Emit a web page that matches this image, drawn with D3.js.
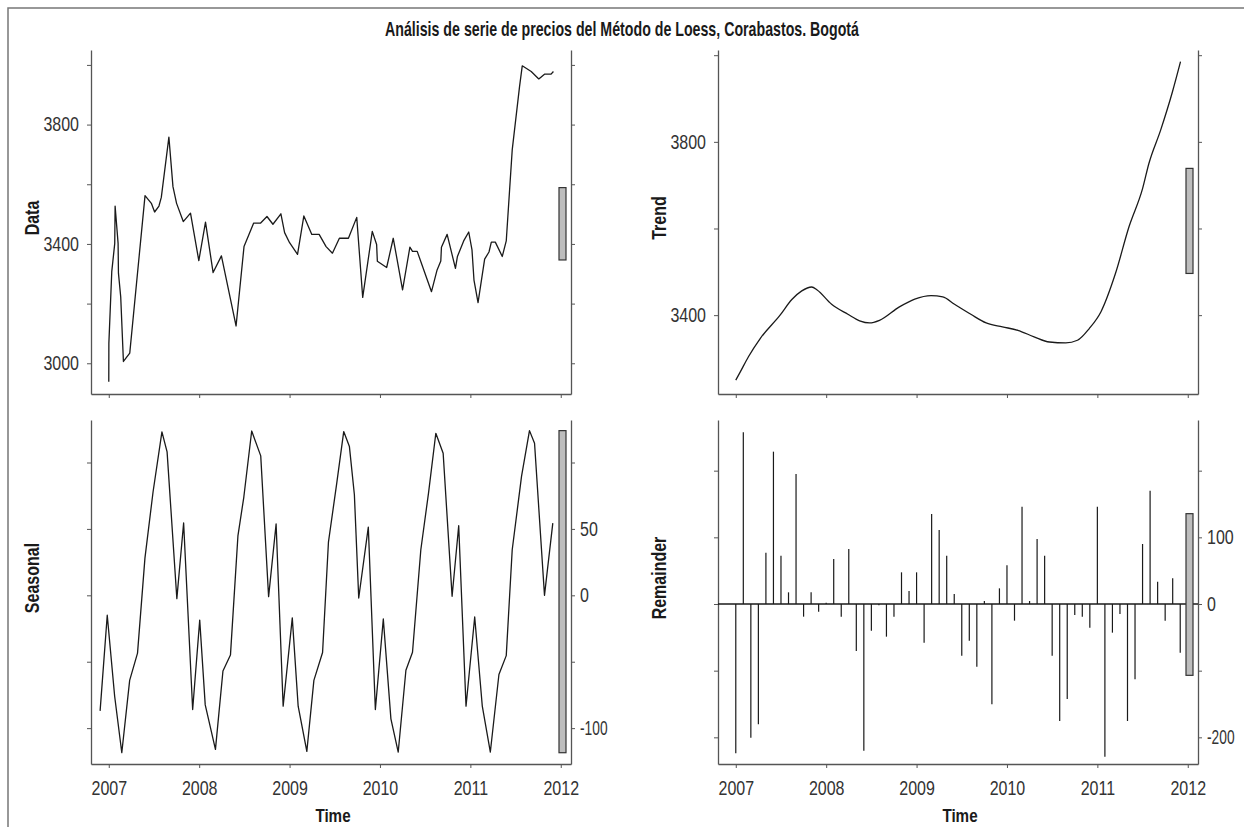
<!DOCTYPE html>
<html>
<head>
<meta charset="utf-8">
<script src="https://cdn.jsdelivr.net/npm/d3@7"></script>
<style>
  body { margin: 0; background: #fff; }
  text { font-family: "Liberation Sans", Arial, sans-serif; }
</style>
</head>
<body>
<div id="chart"></div>
<script>
const title = "Análisis de serie de precios del Método de Loess, Corabastos. Bogotá";
const years = [2007, 2008, 2009, 2010, 2011, 2012];
const timeDomain = [2006.8033, 2012.1133];

// Data panel (decimal years)
const dataTimes = [
  2007.000, 2007.001, 2007.033, 2007.066, 2007.070, 2007.103, 2007.107, 2007.132, 2007.162, 2007.232,
  2007.401, 2007.471, 2007.507, 2007.555, 2007.581, 2007.665, 2007.710, 2007.750, 2007.824, 2007.904,
  2007.996, 2008.070, 2008.154, 2008.246, 2008.408, 2008.496, 2008.603, 2008.680, 2008.750, 2008.816,
  2008.904, 2008.945, 2009.000, 2009.088, 2009.158, 2009.246, 2009.327, 2009.404, 2009.474, 2009.551,
  2009.651, 2009.743, 2009.809, 2009.915, 2009.963, 2009.971, 2010.074, 2010.147, 2010.250, 2010.331,
  2010.360, 2010.412, 2010.570, 2010.632, 2010.673, 2010.680, 2010.743, 2010.835, 2010.857, 2010.926,
  2010.982, 2011.018, 2011.040, 2011.085, 2011.158, 2011.206, 2011.232, 2011.276, 2011.353, 2011.397,
  2011.463, 2011.544, 2011.574, 2011.673, 2011.757, 2011.820, 2011.893, 2011.919
];
const dataValues = [
  2938, 3067, 3307, 3402, 3527, 3402, 3302, 3223, 3006, 3034,
  3562, 3536, 3507, 3527, 3556, 3758, 3592, 3536, 3475, 3503,
  3344, 3473, 3304, 3360, 3125, 3391, 3470, 3470, 3492, 3466,
  3501, 3438, 3404, 3365, 3494, 3432, 3432, 3391, 3369, 3419,
  3419, 3489, 3221, 3442, 3398, 3342, 3321, 3419, 3246, 3389,
  3375, 3375, 3240, 3313, 3343, 3389, 3432, 3318, 3358, 3410,
  3440, 3380, 3279, 3203, 3349, 3373, 3406, 3406, 3358, 3410,
  3715, 3927, 3997, 3978, 3953, 3969, 3969, 3978
];

// Trend panel
const trendTimes = [
  2007.00, 2007.05, 2007.14, 2007.27, 2007.49, 2007.62, 2007.73, 2007.84, 2007.90, 2008.06,
  2008.24, 2008.37, 2008.48, 2008.59, 2008.81, 2008.98, 2009.16, 2009.29, 2009.42, 2009.60,
  2009.77, 2009.95, 2010.12, 2010.30, 2010.47, 2010.65, 2010.78, 2010.91, 2011.04, 2011.20,
  2011.35, 2011.50, 2011.57, 2011.70, 2011.83, 2011.92
];
const trendValues = [
  3250, 3269, 3304, 3346, 3400, 3436, 3456, 3465, 3458, 3425,
  3402, 3387, 3382, 3388, 3419, 3437, 3445, 3442, 3425, 3402,
  3382, 3373, 3365, 3350, 3338, 3336, 3342, 3369, 3408, 3496,
  3604, 3692, 3750, 3827, 3915, 3985
];

// Seasonal panel
const seasonalTimes = [
  2006.904, 2006.983, 2007.065, 2007.144, 2007.231, 2007.318, 2007.400, 2007.490, 2007.588, 2007.645,
  2007.753, 2007.828, 2007.928, 2008.006, 2008.067, 2008.180, 2008.263, 2008.346, 2008.429, 2008.494,
  2008.581, 2008.681, 2008.768, 2008.851, 2008.929, 2009.030, 2009.095, 2009.191, 2009.269, 2009.365,
  2009.430, 2009.522, 2009.599, 2009.662, 2009.717, 2009.765, 2009.871, 2009.949, 2010.037, 2010.121,
  2010.202, 2010.287, 2010.360, 2010.452, 2010.537, 2010.618, 2010.699, 2010.798, 2010.871, 2010.952,
  2011.048, 2011.132, 2011.221, 2011.316, 2011.397, 2011.463, 2011.566, 2011.654, 2011.710, 2011.820,
  2011.912
];
const seasonalValues = [
  -87, -15, -76, -118.5, -64, -43.5, 28, 78, 123, 108,
  -2.5, 54.5, -86, -18.7, -82.5, -116, -57, -45, 45, 74,
  123.7, 105, -1, 53.7, -83.5, -17, -83.5, -117.5, -64, -43,
  40, 84.5, 123.3, 112, 75.7, -2, 51.4, -86, -17.8, -93,
  -118, -56.4, -42.9, 34.3, 77, 122, 107, -0.7, 52.4, -83.5,
  -16.3, -83.5, -118, -59.6, -45.4, 34.3, 89.5, 124, 114.5, 0,
  54.4
];

// Remainder panel, monthly from January 2007
const remainderStart = 2007;
const remainderValues = [
  -224, 257.5, -200.5, -180.5, 77, 228.5, 72.5, 17.5, 195, -19, 17.5, -11.5,
  2, 67.5, -19, 82.5, -70.5, -220, -40, -2, -49, -19, 47.5, 19.5,
  47.5, -58, 135, 111, 72.5, 15, -77.5, -55, -94, 4.5, -150.5, 23.5,
  58, -25, 146, 4.5, 97.5, 72.5, -77.5, -175.5, -142.5, -16.5, -19, -35.5,
  146, -229, -43, -15, -175.5, -113, 90, 170, 33.5, -25, 38.5, -73
];

// Axis ranges and ticks as drawn
const dataDomain = [2897, 4050];
const dataTicks = [3000, 3200, 3400, 3600, 3800, 4000];
const dataLabels = [3000, 3400, 3800];
const trendDomain = [3218, 4012];
const trendTicks = [3400, 3600, 3800, 4000];
const trendLabels = [3400, 3800];
const seasonalDomain = [-127, 132];
const seasonalTicks = [-100, -50, 0, 50, 100];
const seasonalLabels = [-100, 0, 50];
const remainderDomain = [-240, 276];
const remainderTicks = [-200, -100, 0, 100, 200];
const remainderLabels = [-200, 0, 100];

const width = 1244;
const height = 827;
const panelW = 480;
const panelH = 344;
const colX = [91, 718];
const rowY = [50, 420];
const tickLen = 4;
const ink = "#1a1a1a";
const axisColor = "#555";
const narrow = 0.8; // squeeze Liberation Sans to a condensed width

// the hyphen of negative labels is much narrower in the original face
const squeezeOf = (el, factor) => (el.textContent.startsWith("-") ? factor * 0.86 : factor);

// squeeze a text horizontally via textLength, keeping its anchor
const condense = (sel, factor = narrow) =>
  sel.each(function () {
    const w = this.getComputedTextLength();
    if (w > 0) {
      d3.select(this)
        .attr("textLength", w * squeezeOf(this, factor))
        .attr("lengthAdjust", "spacingAndGlyphs");
    }
  });

// squeeze tick labels with a real scale so their boxes are honest
const condenseTick = (sel, factor = narrow) =>
  sel.each(function () {
    const t = d3.select(this);
    const x0 = +t.attr("x") || 0;
    t.attr("x", 0).attr("transform", `translate(${x0},0) scale(${squeezeOf(this, factor)},1)`);
  });

const svg = d3.select("#chart").append("svg")
  .attr("width", width)
  .attr("height", height);

svg.append("rect")
  .attr("x", 8).attr("y", 8)
  .attr("width", width + 10).attr("height", height + 10)
  .attr("fill", "none")
  .attr("stroke", "#777")
  .attr("stroke-width", 1.5);

svg.append("text")
  .attr("x", width / 2)
  .attr("y", 36)
  .attr("text-anchor", "middle")
  .attr("font-size", 21)
  .attr("font-weight", "bold")
  .attr("fill", "#1a1a1a")
  .text(title)
  .call((t) => t.attr("textLength", 474).attr("lengthAdjust", "spacingAndGlyphs"));

const panels = [
  { label: "Data", col: 0, row: 0, type: "line", times: dataTimes, values: dataValues,
    domain: dataDomain, ticks: dataTicks, labels: dataLabels, side: "left", curve: d3.curveLinear },
  { label: "Trend", col: 1, row: 0, type: "line", times: trendTimes, values: trendValues,
    domain: trendDomain, ticks: trendTicks, labels: trendLabels, side: "left", curve: d3.curveMonotoneX },
  { label: "Seasonal", col: 0, row: 1, type: "line", times: seasonalTimes, values: seasonalValues,
    domain: seasonalDomain, ticks: seasonalTicks, labels: seasonalLabels, side: "right", curve: d3.curveLinear },
  { label: "Remainder", col: 1, row: 1, type: "bars",
    times: remainderValues.map((d, i) => remainderStart + i / 12), values: remainderValues,
    domain: remainderDomain, ticks: remainderTicks, labels: remainderLabels, side: "right" },
];

// range bar length is the span of the seasonal component
const barSpan = d3.max(seasonalValues) - d3.min(seasonalValues);

const styleAxis = (g) => {
  g.select(".domain").attr("stroke", axisColor).attr("stroke-width", 1.3);
  g.selectAll(".tick line").attr("stroke", axisColor).attr("stroke-width", 1);
  g.selectAll(".tick text")
    .attr("font-size", 20)
    .attr("fill", "#333")
    .style("font-family", "'Liberation Sans', Arial, sans-serif")
    .call(condenseTick);
};

panels.forEach((p) => {
  const left = colX[p.col];
  const top = rowY[p.row];

  const x = d3.scaleLinear().domain(timeDomain).range([0, panelW]);
  const y = d3.scaleLinear().domain(p.domain).range([panelH, 0]);

  const g = svg.append("g").attr("transform", `translate(${left},${top})`);

  const fmt = (d) => (p.labels.includes(d) ? d : "");

  g.append("g")
    .call(d3.axisLeft(y).tickValues(p.ticks).tickSize(tickLen).tickSizeOuter(0).tickPadding(8)
      .tickFormat(p.side === "left" ? fmt : () => ""))
    .call(styleAxis);

  g.append("g")
    .attr("transform", `translate(${panelW},0)`)
    .call(d3.axisRight(y).tickValues(p.ticks).tickSize(tickLen).tickSizeOuter(0).tickPadding(5)
      .tickFormat(p.side === "right" ? fmt : () => ""))
    .call(styleAxis);

  g.append("g")
    .attr("transform", `translate(0,${panelH})`)
    .call(d3.axisBottom(x).tickValues(years).tickSize(tickLen).tickSizeOuter(0).tickPadding(13)
      .tickFormat(p.row === 1 ? d3.format("d") : () => ""))
    .call(styleAxis);

  const pts = p.times.map((t, i) => [t, p.values[i]]);

  if (p.type === "line") {
    g.append("path")
      .datum(pts)
      .attr("fill", "none")
      .attr("stroke", ink)
      .attr("stroke-width", 1.3)
      .attr("stroke-linejoin", "round")
      .attr("d", d3.line().x((d) => x(d[0])).y((d) => y(d[1])).curve(p.curve));
  } else {
    g.append("line")
      .attr("x1", 0).attr("x2", panelW)
      .attr("y1", y(0)).attr("y2", y(0))
      .attr("stroke", ink)
      .attr("stroke-width", 1.3);
    g.selectAll(".rem")
      .data(pts)
      .join("line")
      .attr("class", "rem")
      .attr("x1", (d) => x(d[0])).attr("x2", (d) => x(d[0]))
      .attr("y1", y(0)).attr("y2", (d) => y(d[1]))
      .attr("stroke", ink)
      .attr("stroke-width", 1.2);
  }

  // grey range bar at the right edge
  const ext = d3.extent(p.values);
  const mid = (ext[0] + ext[1]) / 2;
  g.append("rect")
    .attr("x", panelW - 12)
    .attr("width", 7)
    .attr("y", y(mid + barSpan / 2))
    .attr("height", y(mid - barSpan / 2) - y(mid + barSpan / 2))
    .attr("fill", "#bdbdbd")
    .attr("stroke", "#333")
    .attr("stroke-width", 1.2);

  g.append("text")
    .attr("transform", `translate(-52,${(p.row === 0 ? 218 : 578) - top}) rotate(-90)`)
    .attr("text-anchor", "middle")
    .attr("font-size", 20)
    .attr("font-weight", "bold")
    .attr("fill", "#1a1a1a")
    .text(p.label)
    .call(condense);

  if (p.row === 1) {
    g.append("text")
      .attr("x", panelW / 2 + 2)
      .attr("y", 821.5 - top)
      .attr("text-anchor", "middle")
      .attr("font-size", 19)
      .attr("font-weight", "bold")
      .attr("fill", "#1a1a1a")
      .text("Time")
      .call(condense);
  }
});
</script>
</body>
</html>
